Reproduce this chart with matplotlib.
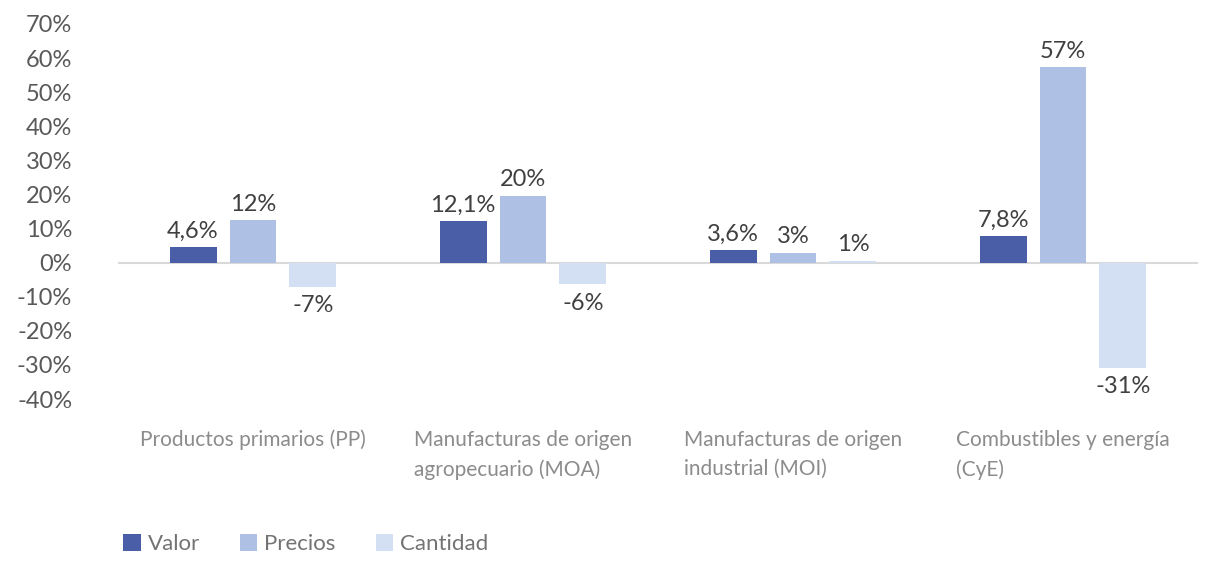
import numpy as np
import matplotlib.pyplot as plt

categories = ['Productos primarios (PP)', 'Manufacturas de origen\nagropecuario (MOA)',
              'Manufacturas de origen\nindustrial (MOI)', 'Combustibles y energía\n(CyE)']
valor = [4.6, 12.1, 3.6, 7.8]
precios = [12.4, 19.6, 2.9, 57.3]
cantidad = [-7.0, -6.4, 0.6, -30.9]
valor_lbl = ['4,6%', '12,1%', '3,6%', '7,8%']
precios_lbl = ['12%', '20%', '3%', '57%']
cantidad_lbl = ['-7%', '-6%', '1%', '-31%']
yticks = [70, 60, 50, 40, 30, 20, 10, 0, -10, -20, -30, -40]

plt.rcParams['font.family'] = ['Lato', 'DejaVu Sans']

fig = plt.figure(figsize=(12.06, 5.62), dpi=100)
ax = fig.add_axes([118 / 1206, 163 / 562, 1080 / 1206, 375 / 562])

x = np.arange(len(categories))
w = 0.174
off = 0.222
series = [(valor, valor_lbl, '#4a5ea8', 'Valor'),
          (precios, precios_lbl, '#aec0e3', 'Precios'),
          (cantidad, cantidad_lbl, '#d3dff2', 'Cantidad')]
for i, (vals, lbls, col, name) in enumerate(series):
    bars = ax.bar(x + (i - 1) * off, vals, w, color=col, label=name)
    for b, v, t in zip(bars, vals, lbls):
        if v >= 0:
            ax.annotate(t, (b.get_x() + w / 2, v), xytext=(0, 4), textcoords='offset points',
                        ha='center', va='bottom', fontsize=17, color='#404040')
        else:
            ax.annotate(t, (b.get_x() + w / 2, v), xytext=(0, -6), textcoords='offset points',
                        ha='center', va='top', fontsize=17, color='#404040')

ax.axhline(0, color='#d9d9d9', lw=1.5, zorder=0)
ax.set_xlim(-0.5, 3.5)
ax.set_ylim(-40, 70)
ax.set_yticks(yticks)
ax.set_yticklabels([f'{t}%' for t in yticks], fontsize=17, color='#595959')
ax.set_xticks(x)
ax.set_xticklabels(categories, fontsize=15, color='#8c8c8c', va='top',
                   multialignment='left', linespacing=1.6)
ax.tick_params(axis='both', length=0)
ax.tick_params(axis='x', pad=22)
ax.tick_params(axis='y', pad=33)
for s in ax.spines.values():
    s.set_visible(False)

fig.legend(loc='lower left', bbox_to_anchor=(103 / 1206, -0.022), ncol=3, frameon=False,
           fontsize=16, labelcolor='#737373', handlelength=0.8, handleheight=0.8,
           handletextpad=0.3, columnspacing=1.8)

fig.savefig('out.png', dpi=100)
